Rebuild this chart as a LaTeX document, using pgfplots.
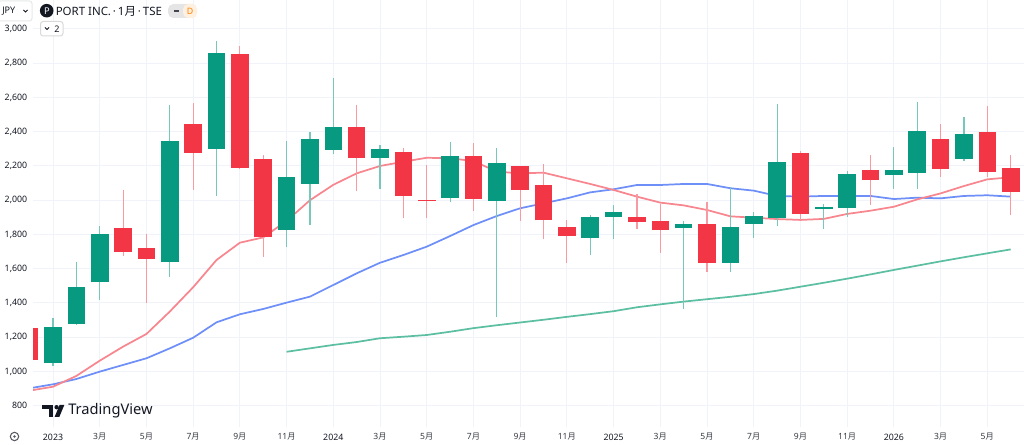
\documentclass[border=0pt]{standalone}
\usepackage{fontspec}
\setmainfont{Noto Sans}
\newfontfamily\jp{Noto Sans CJK JP}
\usepackage{pgfplots}
\usepackage{pgfplotstable}
\pgfplotsset{compat=1.18}
\definecolor{upc}{HTML}{089981}
\definecolor{dnc}{HTML}{F23645}
\definecolor{ma1}{HTML}{F7868F}
\definecolor{ma2}{HTML}{6E8FF7}
\definecolor{ma3}{HTML}{5CBFA2}
\definecolor{gridc}{HTML}{F0F3FA}
\definecolor{txt}{HTML}{131722}

\pgfplotstableread{
x o h l c
0 1048 1314 1032 1262
1 1279 1638 1271 1495
2 1521 1850 1415 1801
5 1639 2554 1552 2346
7 2299 2930 2027 2858
10 1828 2346 1725 2138
11 2095 2399 1855 2358
12 2293 2712 2268 2430
14 2247 2323 2064 2301
17 2011 2342 1988 2260
19 1996 2303 1316 2217
23 1779 1914 1680 1904
24 1904 1972 1772 1929
27 1836 1879 1363 1863
29 1632 2075 1583 1846
30 1863 1931 1781 1906
31 1898 2562 1851 2225
33 1950 1980 1830 1958
34 1955 2171 1904 2151
36 2145 2313 2067 2177
37 2159 2572 2067 2404
39 2243 2484 2231 2389
}\up

\pgfplotstableread{
x o h l c
-1 1256 1260 1060 1065
3 1840 2060 1674 1698
4 1719 1805 1400 1659
6 2445 2566 2060 2278
8 2852 2901 2185 2188
9 2239 2264 1670 1783
13 2430 2556 2054 2247
15 2280 2303 1894 2023
16 2000 2206 1894 1994
18 2260 2332 1937 2009
20 2202 2202 1881 2060
21 2089 2212 1772 1883
22 1842 1885 1635 1793
25 1900 2036 1834 1873
26 1881 1976 1694 1826
28 1859 1988 1579 1633
32 2278 2288 1885 1918
35 2177 2266 1970 2118
38 2358 2445 2137 2184
40 2398 2552 2134 2163
41 2186 2262 1914 2050
}\down

\begin{document}
\begin{tikzpicture}
% grid
\begin{scope}[x=0.75pt,y=-0.75pt,yshift=333.75pt]
\foreach \v in {800,1000,...,3000}{
  \pgfmathsetmacro\py{(3169.4-\v)/5.84}
  \draw[gridc,line width=0.75pt] (33,\py) -- (1024,\py);
}
\foreach \i in {0,2,...,40}{
  \pgfmathsetmacro\px{23.357*(\i+2.27)}
  \draw[gridc,line width=0.75pt] (\px,0) -- (\px,427);
}
\end{scope}

\begin{axis}[at={(0,0)}, anchor=south west, scale only axis,
  width=768pt, height=333.75pt,
  xmin=-2.27, xmax=41.57, ymin=570.6, ymax=3169.4,
  hide axis]
% moving averages
\addplot[ma3, line width=1.3pt] coordinates {
(10,1115) (11,1135) (12,1155) (13,1172) (14,1194) (15,1203) (16,1213) (17,1232)
(18,1253) (19,1270) (20,1286) (21,1302) (22,1319) (23,1335) (24,1352) (25,1375)
(26,1392) (27,1408) (28,1422) (29,1436) (30,1452) (31,1472) (32,1495) (33,1518)
(34,1542) (35,1567) (36,1593) (37,1618) (38,1643) (39,1667) (40,1690) (41,1713)};
\addplot[ma2, line width=1.3pt] coordinates {
(-1,902) (0,925) (1,956) (2,999) (3,1038) (4,1077) (5,1135) (6,1197) (7,1287)
(8,1334) (9,1365) (10,1402) (11,1437) (12,1505) (13,1573) (14,1635) (15,1680)
(16,1729) (17,1791) (18,1855) (19,1908) (20,1953) (21,1982) (22,2011) (23,2046)
(24,2064) (25,2089) (26,2089) (27,2095) (28,2095) (29,2070) (30,2056) (31,2025)
(32,2021) (33,2025) (34,2025) (35,2025) (36,2007) (37,2015) (38,2011) (39,2025)
(40,2029) (41,2021)};
\addplot[ma1, line width=1.3pt] coordinates {
(-1,888) (0,911) (1,974) (2,1063) (3,1145) (4,1219) (5,1350) (6,1492) (7,1651)
(8,1752) (9,1783) (10,1879) (11,2000) (12,2090) (13,2157) (14,2200) (15,2225)
(16,2248) (17,2245) (18,2229) (19,2167) (20,2157) (21,2161) (22,2128) (23,2095)
(24,2060) (25,2021) (26,1986) (27,1970) (28,1943) (29,1906) (30,1898) (31,1890)
(32,1885) (33,1891) (34,1920) (35,1939) (36,1962) (37,2005) (38,2040) (39,2083)
(40,2122) (41,2134)};
% wicks
\addplot[draw=none, mark=none, error bars/.cd, y dir=plus, y explicit, error mark=none,
  error bar style={line width=0.85pt, draw=upc!55!white}]
  table[x=x, y=l, y error expr={\thisrow{h}-\thisrow{l}}] {\up};
\addplot[draw=none, mark=none, error bars/.cd, y dir=plus, y explicit, error mark=none,
  error bar style={line width=0.85pt, draw=dnc!50!white}]
  table[x=x, y=l, y error expr={\thisrow{h}-\thisrow{l}}] {\down};
% bodies
\addplot[draw=none, mark=none, error bars/.cd, y dir=plus, y explicit, error mark=none,
  error bar style={line width=13.2pt, draw=upc}]
  table[x=x, y=o, y error expr={\thisrow{c}-\thisrow{o}}] {\up};
\addplot[draw=none, mark=none, error bars/.cd, y dir=plus, y explicit, error mark=none,
  error bar style={line width=13.2pt, draw=dnc}]
  table[x=x, y=c, y error expr={\thisrow{o}-\thisrow{c}}] {\down};
\end{axis}

\begin{scope}[x=0.75pt,y=-0.75pt,yshift=333.75pt]
\fill[white] (0,0) rectangle (33,445);
% y labels
\foreach \v/\t in {800/800,1200/{1,200},1400/{1,400},1600/{1,600},1800/{1,800},2200/{2,200},2400/{2,400},2600/{2,600},2800/{2,800}}{
  \pgfmathsetmacro\py{(3169.4-\v)/5.84}
  \node[anchor=east, inner sep=0pt, font=\fontsize{6.6pt}{7pt}\selectfont, text=txt] at (27.5,\py) {\t};
}
\foreach \v/\t in {1000/{1,000},2000/{2,000},3000/{3,000}}{
  \pgfmathsetmacro\py{(3169.4-\v)/5.84}
  \node[anchor=east, inner sep=0pt, font=\fontsize{6.6pt}{7pt}\selectfont\bfseries, text=txt] at (27.5,\py) {\t};
}
% x labels
\foreach \i/\t in {2/3,4/5,6/7,8/9,10/11,14/3,16/5,18/7,20/9,22/11,26/3,28/5,30/7,32/9,34/11,38/3,40/5}{
  \pgfmathsetmacro\px{23.357*(\i+2.27)}
  \node[inner sep=0pt, font=\fontsize{6.4pt}{7pt}\selectfont, text=txt!85] at (\px,437) {\t{\jp\fontsize{6.2pt}{7pt}\selectfont 月}};
}
\foreach \i/\t in {0/2023,12/2024,24/2025,36/2026}{
  \pgfmathsetmacro\px{23.357*(\i+2.27)}
  \node[inner sep=0pt, font=\fontsize{6.6pt}{7pt}\selectfont\bfseries, text=txt] at (\px,437) {\t};
}
% bottom-left icon
\draw[txt!70, line width=0.8pt] (14.5,436.5) circle (4.2);
\fill[txt!70] (14.5,436.5) circle (1.3);
% watermark
\fill[txt] (41.7,405) rectangle (53,409);
\fill[txt] (48.6,405) rectangle (53,417);
\fill[txt] (56.6,407.2) circle (2.2);
\fill[txt] (59.6,405) -- (64.3,405) -- (59.3,417) -- (54.6,417) -- cycle;
\node[anchor=west, inner sep=0pt, font=\fontsize{11pt}{12pt}\selectfont\bfseries, text=txt] at (68,411) {TradingView};
% header
\draw[gridc!60!gray!40, line width=0.75pt, fill=white, rounded corners=2] (-2,1) rectangle (32,21);
\node[anchor=west, inner sep=0pt, font=\fontsize{6.8pt}{7pt}\selectfont, text=txt] at (2,11) {JPY};
\draw[txt, line width=0.6pt] (23.5,10) -- (25.5,12) -- (27.5,10);
\fill[txt] (46.7,10.7) circle (6.8);
\node[inner sep=0pt, font=\fontsize{7pt}{7pt}\selectfont\bfseries, text=white] at (46.9,10.9) {P};
\node[anchor=west, inner sep=0pt, font=\fontsize{8.6pt}{9pt}\selectfont, text=txt] at (55.5,11) {PORT INC.\,·\,1{\jp 月}\,·\,TSE};
\fill[gray!20, rounded corners=4] (168,4) rectangle (197,18);
\fill[orange!12, rounded corners=4] (183,4) rectangle (197,18);
\fill[gray!20] (181,4) rectangle (183,18);
\draw[txt!80, line width=1.6pt] (173.5,11) -- (178.5,11);
\node[inner sep=0pt, font=\fontsize{6.6pt}{7pt}\selectfont\bfseries, text=orange] at (190,11.2) {D};
\draw[gray!30, line width=0.75pt, fill=white, rounded corners=2] (40.5,21.5) rectangle (63,36);
\draw[txt, line width=0.6pt] (45,27.5) -- (47,29.5) -- (49,27.5);
\node[inner sep=0pt, font=\fontsize{6.8pt}{7pt}\selectfont, text=txt] at (57,28.8) {2};
\end{scope}
\pgfresetboundingbox
\path[use as bounding box] (0,0) rectangle (768pt,333.75pt);
\end{tikzpicture}
\end{document}
